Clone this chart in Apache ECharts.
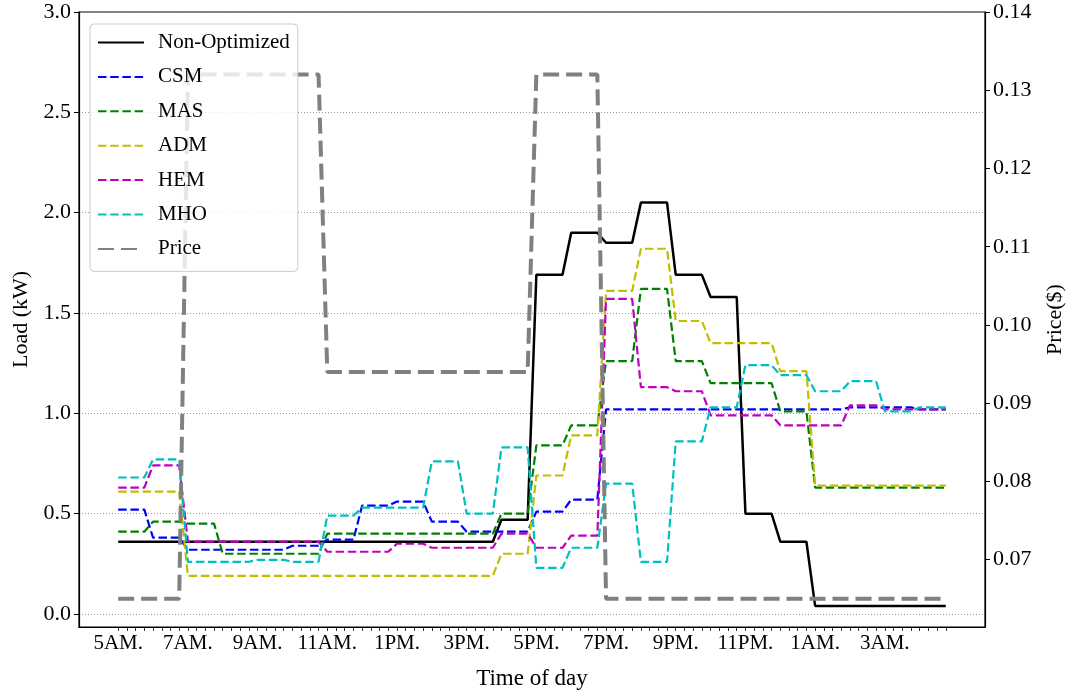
<!DOCTYPE html>
<html>
<head>
<meta charset="utf-8">
<script src="https://cdn.jsdelivr.net/npm/echarts@6/dist/echarts.min.js"></script>
<style>
html,body{margin:0;padding:0;background:#fff;}
#chart{width:1069px;height:696px;}
</style>
</head>
<body>
<div id="chart"></div>
<script>
// Hourly values starting at 5AM (24 hours), each hour plotted as 4 quarter-hour samples
const hourLabels = ['5AM','6AM','7AM','8AM','9AM','10AM','11AM','12PM','1PM','2PM','3PM','4PM',
                    '5PM','6PM','7PM','8PM','9PM','10PM','11PM','12AM','1AM','2AM','3AM','4AM'];
const tickLabels = ['5AM.','7AM.','9AM.','11AM.','1PM.','3PM.','5PM.','7PM.','9PM.','11PM.','1AM.','3AM.'];
const loadTicks = [0, 0.5, 1.0, 1.5, 2.0, 2.5, 3.0];
const priceTicks = [0.07, 0.08, 0.09, 0.10, 0.11, 0.12, 0.13, 0.14];

const nonOptimized = [0.36,0.36,0.36,0.36,0.36,0.36,0.36,0.36,0.36,0.36,0.36,0.47,1.69,1.90,1.85,2.05,1.69,1.58,0.50,0.36,0.04,0.04,0.04,0.04];
const csm = [0.52,0.38,0.32,0.32,0.32,0.34,0.37,0.54,0.56,0.46,0.41,0.41,0.51,0.57,1.02,1.02,1.02,1.02,1.02,1.02,1.02,1.03,1.03,1.02];
const mas = [0.41,0.46,0.45,0.30,0.30,0.30,0.40,0.40,0.40,0.40,0.40,0.50,0.84,0.94,1.26,1.62,1.26,1.15,1.15,1.01,0.63,0.63,0.63,0.63];
const adm = [0.61,0.61,0.19,0.19,0.19,0.19,0.19,0.19,0.19,0.19,0.19,0.30,0.69,0.89,1.61,1.82,1.46,1.35,1.35,1.21,0.64,0.64,0.64,0.64];
const hem = [0.63,0.74,0.36,0.36,0.36,0.36,0.31,0.31,0.35,0.33,0.33,0.40,0.33,0.39,1.57,1.13,1.11,0.99,0.99,0.94,0.94,1.04,1.02,1.02];
const mho = [0.68,0.77,0.26,0.26,0.27,0.26,0.49,0.53,0.53,0.76,0.50,0.83,0.23,0.33,0.65,0.26,0.86,1.03,1.24,1.19,1.11,1.16,1.01,1.03];
const price = [0.065,0.065,0.132,0.132,0.132,0.132,0.094,0.094,0.094,0.094,0.094,0.094,0.132,0.132,0.065,0.065,0.065,0.065,0.065,0.065,0.065,0.065,0.065,0.065];

const SAMPLES_PER_HOUR = 4;
function toSamples(hourly) {
  const out = [];
  hourly.forEach(function (v, h) {
    for (let k = 0; k < SAMPLES_PER_HOUR; k++) out.push([h * SAMPLES_PER_HOUR + k, v]);
  });
  return out;
}
const nSamples = hourLabels.length * SAMPLES_PER_HOUR;
const sampleTicks = [];
for (let i = 0; i < nSamples; i++) sampleTicks.push(i);
const labelTicks = tickLabels.map(function (_, i) { return i * 8; });

const FONT = 'Liberation Serif';
const chart = echarts.init(document.getElementById('chart'), null, {renderer: 'canvas'});

function lineSeries(name, data, color, width, dash, yIndex) {
  return {
    name: name, type: 'line', data: toSamples(data), yAxisIndex: yIndex || 0,
    showSymbol: false, symbol: 'none', smooth: false,
    lineStyle: {color: color, width: width, type: dash, cap: 'butt'},
    itemStyle: {color: color},
    emphasis: {disabled: true}
  };
}
const DASH = [8.5, 3.7];

chart.setOption({
  animation: false,
  backgroundColor: '#fff',
  textStyle: {fontFamily: FONT},
  grid: {left: 79, right: 84, top: 12, bottom: 69, show: true, borderColor: '#000', borderWidth: 1.2,
         backgroundColor: 'transparent', containLabel: false, outerBoundsMode: 'none'},
  legend: {
    orient: 'vertical', left: 90, top: 24,
    padding: [8, 8, 12, 7],
    itemWidth: 46, itemHeight: 14, itemGap: 13.4,
    backgroundColor: 'rgba(255,255,255,0.8)', borderColor: '#cccccc', borderWidth: 1, borderRadius: 4,
    itemStyle: {opacity: 0},
    textStyle: {fontFamily: FONT, fontSize: 21, color: '#000', padding: [0, 0, 0, 9], lineHeight: 20},
    data: ['Non-Optimized','CSM','MAS','ADM','HEM','MHO','Price'],
    z: 10
  },
  xAxis: {
    type: 'value', min: -4.5, max: 99.5,
    name: 'Time of day', nameLocation: 'middle', nameGap: 40,
    nameTextStyle: {fontFamily: FONT, fontSize: 23, color: '#000'},
    axisLine: {show: true, onZero: false, lineStyle: {color: '#000', width: 1.2}},
    axisTick: {show: true, length: 4, customValues: sampleTicks, lineStyle: {color: '#000', width: 0.8}},
    axisLabel: {customValues: labelTicks, margin: 6, fontFamily: FONT, fontSize: 21, color: '#000',
      formatter: function (v) { return tickLabels[Math.round(v / 8)]; }},
    splitLine: {show: false}
  },
  yAxis: [{
    type: 'value', min: -0.065, max: 3.0, position: 'left',
    name: 'Load (kW)', nameLocation: 'middle', nameGap: 35, nameRotate: 90,
    nameTextStyle: {fontFamily: FONT, fontSize: 22, color: '#000'},
    axisLine: {show: true, onZero: false, lineStyle: {color: '#000', width: 1.2}},
    axisTick: {show: true, length: 5, customValues: loadTicks, lineStyle: {color: '#000', width: 1}},
    axisLabel: {customValues: loadTicks, margin: 8, fontFamily: FONT, fontSize: 22, color: '#000',
      formatter: function (v) { return v.toFixed(1); }},
    splitLine: {show: true, lineStyle: {color: '#999', width: 1, type: [1, 2]}}
  }, {
    type: 'value', min: 0.0614, max: 0.14, position: 'right',
    name: 'Price($)', nameLocation: 'middle', nameGap: 59, nameRotate: 90,
    nameTextStyle: {fontFamily: FONT, fontSize: 22, color: '#000'},
    axisLine: {show: true, onZero: false, lineStyle: {color: '#000', width: 1.2}},
    axisTick: {show: true, length: 5, customValues: priceTicks, lineStyle: {color: '#000', width: 1}},
    axisLabel: {customValues: priceTicks, margin: 8, fontFamily: FONT, fontSize: 22, color: '#000',
      formatter: function (v) { return v.toFixed(2); }},
    splitLine: {show: false}
  }],
  series: [
    lineSeries('Non-Optimized', nonOptimized, '#000000', 2.5, 'solid'),
    lineSeries('CSM', csm, '#0000ff', 2.2, DASH),
    lineSeries('MAS', mas, '#008000', 2.2, DASH),
    lineSeries('ADM', adm, '#bfbf00', 2.2, DASH),
    lineSeries('HEM', hem, '#bf00bf', 2.2, DASH),
    lineSeries('MHO', mho, '#00bfbf', 2.2, DASH),
    lineSeries('Price', price, '#808080', 4, [16, 7], 1)
  ]
});
</script>
</body>
</html>
